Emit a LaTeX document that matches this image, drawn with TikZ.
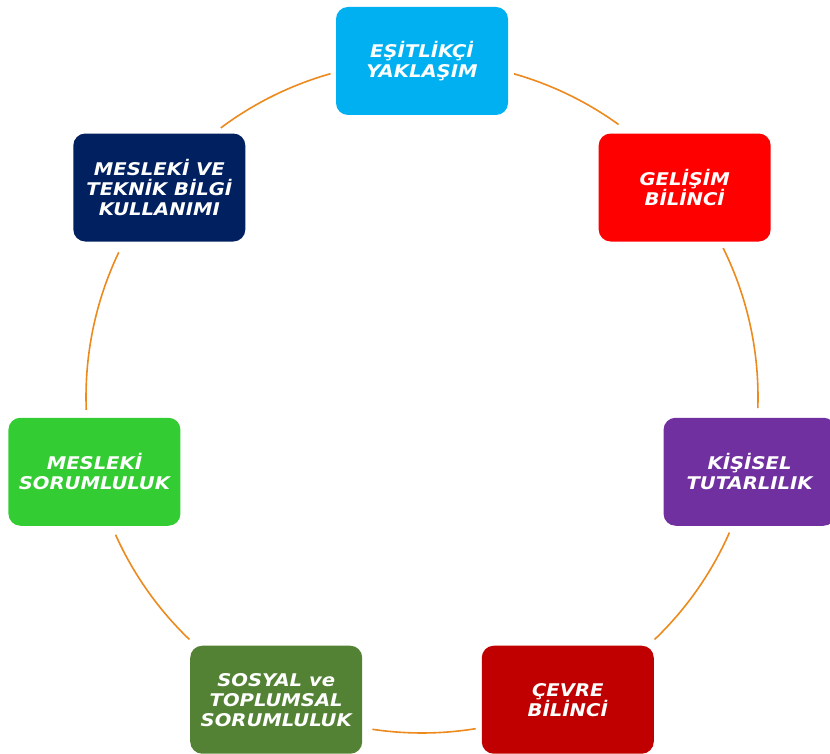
\documentclass[tikz,border=0pt]{standalone}
\usepackage{fontspec}
\setmainfont{DejaVu Sans}
\newfontfamily\boxfont{DejaVu Sans}[FakeStretch=1.12]
\usetikzlibrary{calc}
\definecolor{cCyan}{HTML}{00B0F0}
\definecolor{cRed}{HTML}{FF0000}
\definecolor{cPurple}{HTML}{7030A0}
\definecolor{cDarkRed}{HTML}{C00000}
\definecolor{cGreen}{HTML}{548235}
\definecolor{cLGreen}{HTML}{33CC33}
\definecolor{cNavy}{HTML}{002060}
\definecolor{cArc}{HTML}{EC8A1E}
\begin{document}
\begin{tikzpicture}[x=1pt,y=1pt,
  cyclebox/.style={rounded corners=12pt, minimum width=172pt, minimum height=108pt,
    text=white, font=\boxfont\fontsize{17.5}{20}\selectfont\bfseries\itshape, align=center, inner sep=0pt},
  cyclearc/.style={draw=cArc, line width=1.6pt}]
\useasboundingbox (0,0) rectangle (830,753);
\clip (0,0) rectangle (830,753);
\coordinate (c) at (422,356);
\node[cyclebox, fill=cCyan]    (b1) at ($(c)+(90:336)$) {EŞİTLİKÇİ\\YAKLAŞIM};
\node[cyclebox, fill=cRed]     (b2) at ($(c)+(38.571:336)$) {GELİŞİM\\BİLİNCİ};
\node[cyclebox, fill=cPurple]  (b3) at ($(c)+(-12.857:336)$) {KİŞİSEL\\TUTARLILIK};
\node[cyclebox, fill=cDarkRed] (b4) at ($(c)+(-64.286:336)$) {ÇEVRE\\BİLİNCİ};
\node[cyclebox, fill=cGreen]   (b5) at ($(c)+(-115.714:336)$) {SOSYAL ve\\TOPLUMSAL\\SORUMLULUK};
\node[cyclebox, fill=cLGreen]  (b6) at ($(c)+(-167.143:336)$) {MESLEKİ\\SORUMLULUK};
\node[cyclebox, fill=cNavy]    (b7) at ($(c)+(141.429:336)$) {MESLEKİ VE\\TEKNİK BİLGİ\\KULLANIMI};
\coordinate (a1) at ($(c)+(74.1:336)$);
\coordinate (a2) at ($(c)+(26.3:336)$);
\coordinate (a3) at ($(c)+(-23.8:336)$);
\coordinate (a4) at ($(c)+(-80.8:336)$);
\coordinate (a5) at ($(c)+(-133.8:336)$);
\coordinate (a6) at ($(c)+(182.2:336)$);
\coordinate (a7) at ($(c)+(126.8:336)$);
\draw[cyclearc] (a1) arc[start angle=74.1, end angle=54.2, radius=336];
\draw[cyclearc] (a2) arc[start angle=26.3, end angle=-1.9, radius=336];
\draw[cyclearc] (a3) arc[start angle=-23.8, end angle=-46.2, radius=336];
\draw[cyclearc] (a4) arc[start angle=-80.8, end angle=-98.5, radius=336];
\draw[cyclearc] (a5) arc[start angle=-133.8, end angle=-155.8, radius=336];
\draw[cyclearc] (a6) arc[start angle=182.2, end angle=154.5, radius=336];
\draw[cyclearc] (a7) arc[start angle=126.8, end angle=105.8, radius=336];
\end{tikzpicture}
\end{document}
